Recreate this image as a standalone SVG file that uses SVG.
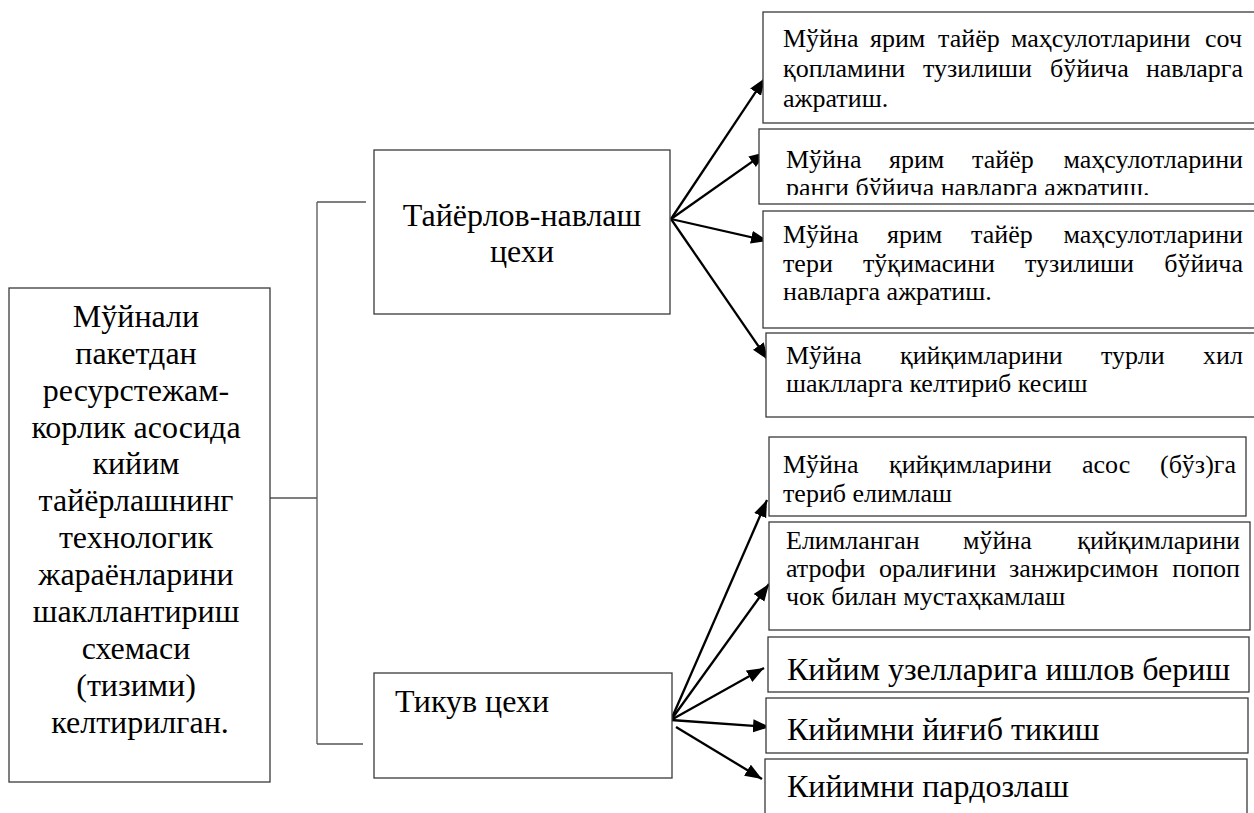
<svg xmlns="http://www.w3.org/2000/svg" width="1254" height="813" viewBox="0 0 1254 813">
<defs>
<style>
.box{fill:#fff;stroke:#3a3a3a;stroke-width:1.3}
.br{fill:none;stroke:#555;stroke-width:1.3}
.t{font-family:"Liberation Serif","Times New Roman",serif;fill:#000}
.s{font-size:26px}
.b{font-size:32px}
.e{text-anchor:end}
.m{text-anchor:middle}
.ar{stroke:#000;stroke-width:2.3;fill:none;marker-end:url(#ah)}
</style>
<marker id="ah" markerUnits="userSpaceOnUse" markerWidth="18" markerHeight="14" refX="17" refY="6.5" orient="auto">
<path d="M0,0 L17,6.5 L0,13 z" fill="#000"/>
</marker>
<clipPath id="c2"><rect x="759" y="129" width="500" height="66"/></clipPath>
</defs>
<rect width="1254" height="813" fill="#fff"/>

<g id="connectors">
<path class="br" d="M270,498 H317 M317,202 V744 M317,202 H366 M317,744 H363"/>
<line class="ar" x1="671" y1="219" x2="765" y2="78"/>
<line class="ar" x1="671" y1="219" x2="766" y2="152"/>
<line class="ar" x1="671" y1="219" x2="768" y2="241"/>
<line class="ar" x1="671" y1="219" x2="768" y2="360"/>
<line class="ar" x1="671" y1="720" x2="767" y2="500"/>
<line class="ar" x1="671" y1="720" x2="769" y2="584"/>
<line class="ar" x1="671" y1="720" x2="764" y2="668"/>
<line class="ar" x1="671" y1="720" x2="770" y2="727"/>
<line class="ar" x1="676" y1="727" x2="762" y2="779"/>
</g>

<g id="main">
<rect class="box" x="9" y="288" width="261" height="494"/>
<text class="t b m" x="140">
<tspan x="140" y="327">Мўйнали</tspan>
<tspan x="140" y="364">пакетдан</tspan>
<tspan x="140" y="401">ресурстежам-</tspan>
<tspan x="140" y="438">корлик асосида</tspan>
<tspan x="140" y="474">кийим</tspan>
<tspan x="140" y="511">тайёрлашнинг</tspan>
<tspan x="140" y="548">технологик</tspan>
<tspan x="140" y="585">жараёнларини</tspan>
<tspan x="140" y="622">шакллантириш</tspan>
<tspan x="140" y="659">схемаси</tspan>
<tspan x="140" y="696">(тизими)</tspan>
<tspan x="140" y="733">келтирилган.</tspan>
</text>
</g>

<g id="shop1">
<rect class="box" x="374" y="150" width="296" height="164"/>
<text class="t b m"><tspan x="522" y="226">Тайёрлов-навлаш</tspan><tspan x="522" y="262">цехи</tspan></text>
</g>

<g id="shop2">
<rect class="box" x="374" y="673" width="298" height="105"/>
<text class="t b" x="395" y="712">Тикув цехи</text>
</g>

<g id="op1">
<rect class="box" x="763" y="12" width="500" height="111"/>
<text class="t s"><tspan x="783" y="47">Мўйна</tspan><tspan x="870" y="47">ярим</tspan><tspan x="938" y="47">тайёр</tspan><tspan x="1011" y="47">маҳсулотларини</tspan></text>
<text class="t s e" x="1242" y="47">соч</text>
<text class="t s"><tspan x="783" y="77">қопламини</tspan><tspan x="923" y="77">тузилиши</tspan><tspan x="1050" y="77">бўйича</tspan></text>
<text class="t s e" x="1243" y="77">навларга</text>
<text class="t s" x="783" y="107">ажратиш.</text>
</g>

<g id="op2">
<rect class="box" x="759" y="129" width="500" height="75"/>
<g clip-path="url(#c2)">
<text class="t s"><tspan x="786" y="168">Мўйна</tspan><tspan x="889" y="168">ярим</tspan><tspan x="972" y="168">тайёр</tspan></text>
<text class="t s e" x="1243" y="168">маҳсулотларини</text>
<text class="t s" x="786" y="196">ранги бўйича навларга ажратиш.</text>
</g>
</g>

<g id="op3">
<rect class="box" x="763" y="211" width="500" height="117"/>
<text class="t s"><tspan x="783" y="243">Мўйна</tspan><tspan x="887" y="243">ярим</tspan><tspan x="971" y="243">тайёр</tspan></text>
<text class="t s e" x="1243" y="243">маҳсулотларини</text>
<text class="t s"><tspan x="783" y="272">тери</tspan><tspan x="863" y="272">тўқимасини</tspan><tspan x="1025" y="272">тузилиши</tspan></text>
<text class="t s e" x="1243" y="272">бўйича</text>
<text class="t s" x="783" y="300">навларга ажратиш.</text>
</g>

<g id="op4">
<rect class="box" x="766" y="333" width="500" height="84"/>
<text class="t s"><tspan x="786" y="364">Мўйна</tspan><tspan x="900" y="364">қийқимларини</tspan><tspan x="1101" y="364">турли</tspan></text>
<text class="t s e" x="1243" y="364">хил</text>
<text class="t s" x="786" y="392">шаклларга келтириб кесиш</text>
</g>

<g id="op5">
<rect class="box" x="769" y="437" width="477" height="79"/>
<text class="t s"><tspan x="783" y="473">Мўйна</tspan><tspan x="889" y="473">қийқимларини</tspan><tspan x="1082" y="473">асос</tspan></text>
<text class="t s e" x="1236" y="473">(бўз)га</text>
<text class="t s" x="783" y="502">териб елимлаш</text>
</g>

<g id="op6">
<rect class="box" x="769" y="522" width="481" height="108"/>
<text class="t s"><tspan x="786" y="549">Елимланган</tspan><tspan x="963" y="549">мўйна</tspan></text>
<text class="t s e" x="1240" y="549">қийқимларини</text>
<text class="t s"><tspan x="786" y="577">атрофи</tspan><tspan x="879" y="577">оралиғини</tspan><tspan x="1009" y="577">занжирсимон</tspan></text>
<text class="t s e" x="1240" y="577">попоп</text>
<text class="t s" x="786" y="605">чок билан мустаҳкамлаш</text>
</g>

<g id="op7">
<rect class="box" x="768" y="637" width="481" height="55"/>
<text class="t b" x="787" y="680">Кийим узелларига ишлов бериш</text>
</g>

<g id="op8">
<rect class="box" x="766" y="698" width="482" height="55"/>
<text class="t b" x="787" y="740">Кийимни йиғиб тикиш</text>
</g>

<g id="op9">
<rect class="box" x="765" y="759" width="482" height="70"/>
<text class="t b" x="787" y="797">Кийимни пардозлаш</text>
</g>
</svg>
